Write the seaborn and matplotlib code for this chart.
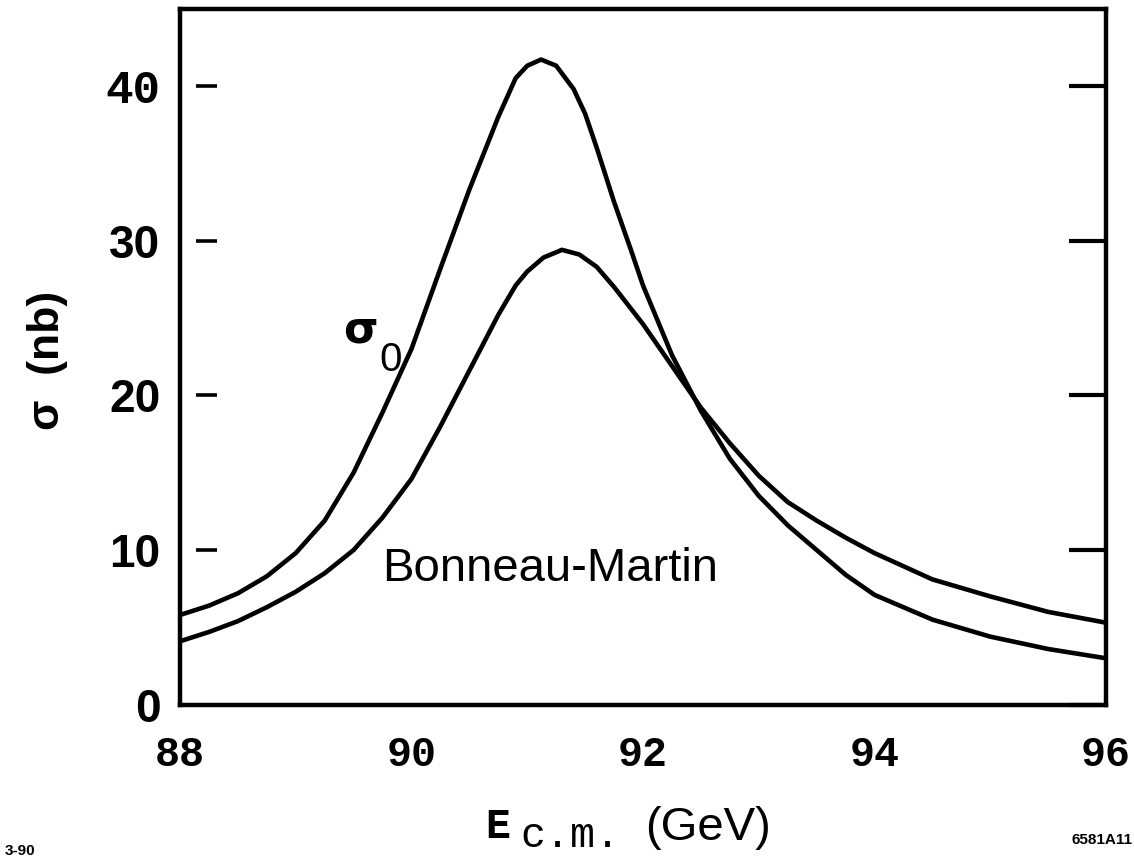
import numpy as np
import pandas as pd
import matplotlib
matplotlib.use("Agg")
import matplotlib.pyplot as plt
import seaborn as sns

# ---- data ----
e_sigma0 = [88.0, 88.25, 88.5, 88.75, 89.0, 89.25, 89.5, 89.75, 90.0, 90.25, 90.5,
            90.75, 90.9, 91.0, 91.12, 91.25, 91.4, 91.5, 91.6, 91.75, 91.9, 92.0,
            92.25, 92.5, 92.75, 93.0, 93.25, 93.5, 93.75, 94.0, 94.5, 95.0, 95.5, 96.0]
sigma0 = [5.8, 6.4, 7.2, 8.3, 9.8, 11.9, 15.0, 18.9, 23.0, 28.2, 33.3,
          38.0, 40.5, 41.3, 41.7, 41.3, 39.8, 38.2, 36.0, 32.5, 29.3, 27.1,
          22.6, 19.0, 15.9, 13.5, 11.6, 10.0, 8.4, 7.1, 5.5, 4.4, 3.6, 3.0]

e_bm = [88.0, 88.25, 88.5, 88.75, 89.0, 89.25, 89.5, 89.75, 90.0, 90.25, 90.5,
        90.75, 90.9, 91.0, 91.14, 91.3, 91.45, 91.6, 91.75, 92.0, 92.25, 92.5,
        92.75, 93.0, 93.25, 93.5, 93.75, 94.0, 94.5, 95.0, 95.5, 96.0]
sigma_bm = [4.1, 4.7, 5.4, 6.3, 7.3, 8.5, 10.0, 12.1, 14.6, 18.0, 21.6,
            25.2, 27.1, 28.0, 28.9, 29.4, 29.1, 28.3, 27.0, 24.6, 21.9, 19.2,
            16.9, 14.8, 13.1, 11.9, 10.8, 9.8, 8.1, 7.0, 6.0, 5.3]

x_ticks = [88, 90, 92, 94, 96]
y_ticks = [0, 10, 20, 30, 40]

df = pd.concat([
    pd.DataFrame({"E": e_sigma0, "sigma": sigma0, "curve": "sigma0"}),
    pd.DataFrame({"E": e_bm, "sigma": sigma_bm, "curve": "Bonneau-Martin"}),
])

sns.set_theme(style="white")
plt.rcParams["font.family"] = ["Liberation Sans", "DejaVu Sans"]

fig = plt.figure(figsize=(11.34, 8.57), dpi=100)
ax = fig.add_axes([180/1134, (857-704.7)/857, (1106-180)/1134, (704.7-8.5)/857])

sns.lineplot(data=df, x="E", y="sigma", units="curve", estimator=None,
             color="black", lw=3.3, ax=ax, legend=False, sort=False,
             solid_joinstyle="round", solid_capstyle="round")

ax.set_xlim(88, 96)
ax.set_ylim(0, 45)
ax.set_xticks(x_ticks)
ax.set_yticks(y_ticks)
ax.set_xticklabels([str(t) for t in x_ticks], family="Liberation Mono",
                   fontsize=30, weight="bold")
ax.set_yticklabels([str(t) for t in y_ticks], fontsize=33, weight="bold")
for lab in ax.get_yticklabels():
    if lab.get_text() == "40":
        lab.set_family("Liberation Mono")
        lab.set_weight("bold")

for s in ax.spines.values():
    s.set_color("black")
    s.set_linewidth(3.2)

ax.tick_params(axis="x", length=0, pad=22, colors="black")
ax.tick_params(axis="y", left=False, labelleft=True, right=True, labelright=False,
               direction="in", length=27, width=3, pad=14, colors="black")

# floating short ticks on the left inside the frame
ax.hlines([t for t in y_ticks if t > 0], 0.017, 0.040,
          transform=ax.get_yaxis_transform(), color="black", lw=2.6)

ax.set_xlabel("")
ax.set_ylabel("")

# curve labels
ax.text(89.56, 24.2, "σ", fontsize=32, ha="center", va="center",
        family="DejaVu Sans", weight="bold", color="black")
ax.text(89.82, 22.3, "0", fontsize=29, ha="center", va="center", color="black")
ax.text(89.75, 8.8, "Bonneau-Martin", fontsize=34, ha="left", va="center", color="black")

# axis labels
fig.text(48/1134, 1-360/857, "σ  (nb)", rotation=90, fontsize=32, weight="bold",
         ha="center", va="center", color="black")
fig.text(485/1134, 1-838/857, "E", family="Liberation Mono", weight="bold",
         fontsize=30, ha="left", va="baseline", color="black")
fig.text(520/1134, 1-847/857, "c.m.", family="Liberation Mono",
         fontsize=30, ha="left", va="baseline", color="black")
fig.text(645/1134, 1-840/857, "(GeV)", fontsize=34, ha="left", va="baseline", color="black")

fig.text(5/1134, 1-855/857, "3-90", fontsize=11, weight="bold", ha="left",
         va="baseline", color="black")
fig.text(1132/1134, 1-844/857, "6581A11", fontsize=11, weight="bold", ha="right",
         va="baseline", color="black")

fig.savefig("out.png", dpi=100)
